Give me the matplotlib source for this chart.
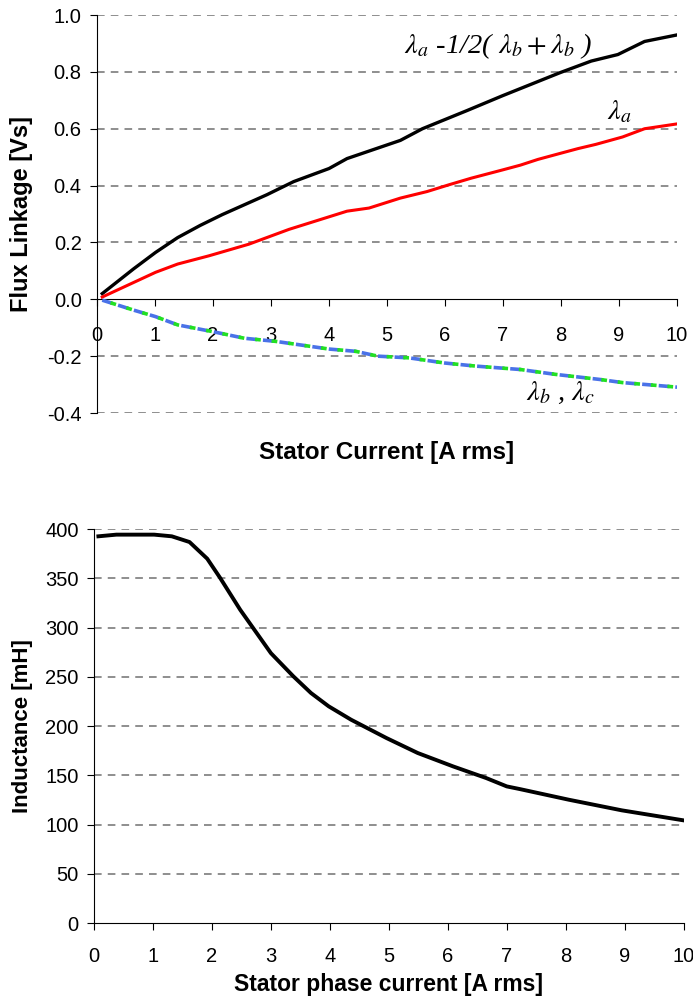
import matplotlib
matplotlib.use("Agg")
import matplotlib.pyplot as plt

# flux linkage vs stator current (top)
cur_total = [0.09, 0.63, 1.01, 1.39, 1.78, 2.16, 2.93, 3.39, 4.0, 4.31, 5.23, 5.61,
             6.38, 6.99, 7.98, 8.52, 8.98, 9.21, 9.44, 10.0]
flux_total = [0.02, 0.107, 0.165, 0.217, 0.26, 0.298, 0.368, 0.414, 0.46, 0.495, 0.559, 0.6,
              0.664, 0.716, 0.797, 0.838, 0.861, 0.884, 0.907, 0.93]

cur_a = [0.09, 1.01, 1.39, 1.93, 2.62, 3.31, 4.31, 4.69, 5.23, 5.69, 6.07, 6.45, 6.99,
         7.3, 7.6, 7.98, 8.29, 8.6, 9.06, 9.44, 10.0]
flux_a = [0.008, 0.095, 0.124, 0.153, 0.194, 0.246, 0.31, 0.321, 0.356, 0.379, 0.403, 0.426,
          0.455, 0.472, 0.492, 0.513, 0.53, 0.545, 0.571, 0.6, 0.617]

cur_bc = [0.09, 0.63, 1.01, 1.39, 2.0, 2.54, 3.08, 4.0, 4.46, 4.84, 5.38, 5.99, 6.53,
          7.3, 7.9, 8.67, 9.06, 10.0]
flux_bc = [-0.003, -0.038, -0.061, -0.09, -0.114, -0.137, -0.148, -0.175, -0.183, -0.2,
           -0.206, -0.224, -0.235, -0.247, -0.264, -0.282, -0.293, -0.309]

# inductance vs phase current (bottom)
cur_L = [0.075, 0.38, 1.02, 1.32, 1.62, 1.92, 2.14, 2.48, 3.0, 3.38, 3.68, 3.98, 4.36,
         4.96, 5.49, 6.09, 6.65, 7.0, 7.22, 8.05, 8.95, 10.0]
induct = [392.6, 394.3, 394.3, 392.6, 386.8, 369.9, 350.3, 318.0, 274.0, 250.5, 233.5,
          220.0, 206.4, 187.8, 172.6, 159.0, 147.2, 138.7, 136.0, 125.2, 114.4, 104.2]

top_yticks = [-0.4, -0.2, 0.0, 0.2, 0.4, 0.6, 0.8, 1.0]
bot_yticks = [0, 50, 100, 150, 200, 250, 300, 350, 400]
xticks = list(range(0, 11))

plt.rcParams['font.family'] = ['Liberation Sans', 'DejaVu Sans']
plt.rcParams['mathtext.fontset'] = 'stix'

fig = plt.figure(figsize=(6.93, 10.01), dpi=100)
ax1 = fig.add_axes([0.140, 0.5874, 0.837, 0.3976])
ax2 = fig.add_axes([0.1356, 0.0779, 0.851, 0.3936])

grid_kw = dict(color='#707070', linestyle=(0, (5, 4)), linewidth=1.1, zorder=1)
note_kw = dict(family='Liberation Serif', style='italic', fontsize=20.5, va='center', ha='left')

# ---- top plot
for y in top_yticks:
    if y != 0.0:
        ax1.axhline(y, **grid_kw)
ax1.plot(cur_total, flux_total, color='black', lw=2.4, zorder=3)
ax1.plot(cur_a, flux_a, color='#ff0000', lw=2.2, zorder=3)
ax1.plot(cur_bc, flux_bc, color='#4a72e8', lw=2.6, linestyle=(0, (3, 1.6)), zorder=3)
ax1.plot(cur_bc, flux_bc, color='#22e022', lw=2.6, linestyle=(2.2, (1.6, 3.0)), zorder=4)

ax1.set_xlim(0, 10)
ax1.set_ylim(-0.4, 1.0)
ax1.set_xticks(xticks)
ax1.set_yticks(top_yticks)
ax1.set_yticklabels([f"{v:.1f}" for v in top_yticks])
ax1.spines['top'].set_visible(False)
ax1.spines['right'].set_visible(False)
ax1.spines['bottom'].set_position(('data', 0))
ax1.tick_params(axis='x', direction='out', length=5, pad=14, labelsize=14.5)
ax1.tick_params(axis='y', direction='out', length=5, pad=6, labelsize=14.5)
ax1.set_ylabel('Flux Linkage [Vs]', fontweight='bold', fontsize=17)
ax1.yaxis.set_label_coords(-0.110, 0.5)
ax1.text(0.5, -0.098, 'Stator Current [A rms]', transform=ax1.transAxes, ha='center',
         va='center', fontweight='bold', fontsize=17.5)

ax1.text(5.3, 0.89, r'$\lambda_a$ -1/2( $\lambda_b + \lambda_b$ )', **note_kw)
ax1.text(8.8, 0.66, r'$\lambda_a$', **note_kw)
ax1.text(7.4, -0.33, r'$\lambda_b$ , $\lambda_c$', **note_kw)

# ---- bottom plot
for y in bot_yticks[1:]:
    ax2.axhline(y, **grid_kw)
ax2.plot(cur_L, induct, color='black', lw=2.8, zorder=3)
ax2.set_xlim(0, 10)
ax2.set_ylim(0, 400)
ax2.set_xticks(xticks)
ax2.set_yticks(bot_yticks)
ax2.spines['top'].set_visible(False)
ax2.spines['right'].set_visible(False)
ax2.tick_params(axis='x', direction='out', length=5, pad=12, labelsize=14.5)
ax2.tick_params(axis='y', direction='out', length=5, pad=6, labelsize=14.5)
ax2.set_ylabel('Inductance [mH]', fontweight='bold', fontsize=16)
ax2.yaxis.set_label_coords(-0.103, 0.5)
ax2.text(0.5, -0.157, 'Stator phase current [A rms]', transform=ax2.transAxes, ha='center',
         va='center', fontweight='bold', fontsize=16.5)

fig.savefig('out.png', dpi=100)
